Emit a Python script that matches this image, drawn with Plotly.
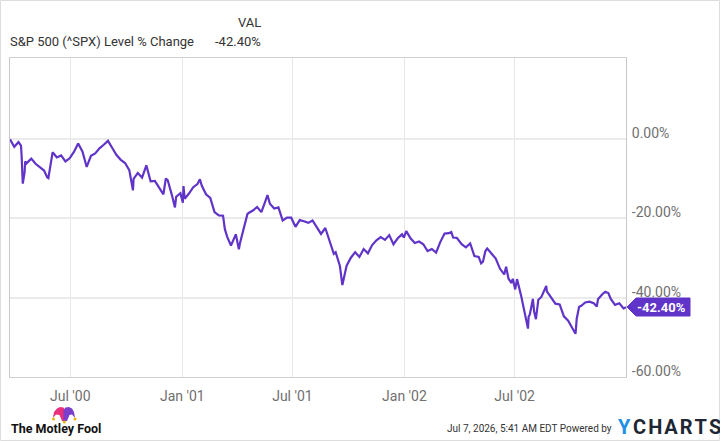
import plotly.graph_objects as go

# ---- data (S&P 500 level % change since 2000-03-24) ----
dates = [
    "2000-03-24", "2000-03-31", "2000-04-07", "2000-04-11", "2000-04-14", "2000-04-17", "2000-04-20",
    "2000-04-28", "2000-05-05", "2000-05-12", "2000-05-19", "2000-05-24", "2000-05-26", "2000-06-02",
    "2000-06-09", "2000-06-16", "2000-06-23", "2000-06-30", "2000-07-07", "2000-07-14", "2000-07-21",
    "2000-07-28", "2000-08-04", "2000-08-11", "2000-08-18", "2000-08-25", "2000-09-01", "2000-09-08",
    "2000-09-15", "2000-09-22", "2000-09-29", "2000-10-06", "2000-10-12", "2000-10-13", "2000-10-20",
    "2000-10-27", "2000-11-03", "2000-11-10", "2000-11-17", "2000-11-24", "2000-12-01", "2000-12-08",
    "2000-12-15", "2000-12-20", "2000-12-22", "2000-12-29",
    "2001-01-05", "2001-01-12", "2001-01-19", "2001-01-26", "2001-02-02", "2001-02-09", "2001-02-16",
    "2001-02-23", "2001-03-02", "2001-03-09", "2001-03-16", "2001-03-22", "2001-03-30", "2001-04-04",
    "2001-04-06", "2001-04-12", "2001-04-20", "2001-04-27", "2001-05-04", "2001-05-11", "2001-05-18",
    "2001-05-21", "2001-05-25", "2001-06-01", "2001-06-08", "2001-06-15", "2001-06-22", "2001-06-29",
    "2001-07-06", "2001-07-13", "2001-07-20", "2001-07-27", "2001-08-03", "2001-08-10", "2001-08-17",
    "2001-08-24", "2001-08-31", "2001-09-07", "2001-09-10", "2001-09-17", "2001-09-21", "2001-09-28",
    "2001-10-05", "2001-10-12", "2001-10-19", "2001-10-26", "2001-11-02", "2001-11-09", "2001-11-16",
    "2001-11-23", "2001-11-30", "2001-12-07", "2001-12-14", "2001-12-21", "2001-12-28", "2001-12-31",
    "2002-01-04", "2002-01-11", "2002-01-18", "2002-01-25", "2002-02-01", "2002-02-08", "2002-02-15",
    "2002-02-22", "2002-03-01", "2002-03-08", "2002-03-15", "2002-03-22", "2002-03-28", "2002-04-05",
    "2002-04-12", "2002-04-19", "2002-04-26", "2002-05-03", "2002-05-10", "2002-05-17", "2002-05-24",
    "2002-05-31", "2002-06-07", "2002-06-14", "2002-06-21", "2002-06-28", "2002-07-05", "2002-07-12",
    "2002-07-19", "2002-07-23", "2002-07-26", "2002-08-02", "2002-08-09", "2002-08-16", "2002-08-22",
    "2002-08-23", "2002-08-30", "2002-09-06", "2002-09-13", "2002-09-20", "2002-09-27", "2002-10-04",
    "2002-10-09", "2002-10-11", "2002-10-18", "2002-10-25", "2002-11-01", "2002-11-08", "2002-11-15",
    "2002-11-22", "2002-11-27", "2002-12-06", "2002-12-13", "2002-12-20", "2002-12-27", "2002-12-31",
]
pct_change = [
    0.0, -1.9, -0.7, -1.6, -11.2, -8.3, -6.1,
    -4.9, -6.2, -7.0, -7.9, -9.6, -9.8, -3.3,
    -4.6, -4.1, -5.6, -4.8, -3.2, -1.1, -3.1,
    -7.0, -4.2, -3.6, -2.3, -1.4, -0.4, -2.2,
    -4.0, -5.2, -6.0, -7.8, -12.9, -10.0, -8.5,
    -9.7, -6.6, -10.6, -10.5, -12.2, -13.9, -10.3,
    -14.1, -17.2, -14.5, -13.6,
    -15.0, -13.7, -12.1, -11.3, -11.7, -13.9, -14.8,
    -18.4, -19.2, -19.3, -24.7, -26.8, -24.0, -27.8,
    -26.1, -22.5, -18.6, -18.0, -17.1, -18.4, -15.4,
    -14.1, -16.3, -17.5, -17.2, -20.5, -19.8, -19.8,
    -22.1, -20.4, -20.7, -21.1, -20.5, -22.1, -23.9,
    -22.4, -25.8, -28.9, -28.5, -32.0, -36.8, -31.9,
    -29.9, -28.5, -29.7, -27.7, -28.8, -26.7, -25.5,
    -24.7, -25.4, -24.2, -26.5, -25.0, -24.0, -24.8,
    -23.2, -25.0, -26.2, -25.8, -26.5, -28.2, -27.7,
    -28.6, -25.9, -23.8, -23.7, -24.8, -24.9, -26.5,
    -27.3, -26.3, -29.5, -29.7, -30.9, -27.6, -29.0,
    -30.1, -32.7, -34.1, -35.2, -35.2, -35.3, -39.7,
    -44.5, -47.8, -44.2, -43.4, -40.5, -39.2, -37.0,
    -38.4, -40.0, -41.5, -41.7, -44.7, -45.8, -47.6,
    -49.1, -45.3, -42.1, -41.2, -41.0, -41.4, -40.4,
    -39.1, -38.5, -40.3, -41.8, -41.4, -42.7, -42.4,
]
# additional mid-week readings
extra_dates = [
    "2000-03-28", "2000-04-12", "2000-04-18", "2000-12-05",
    "2001-01-02", "2001-01-03", "2001-01-30", "2001-03-12", "2001-04-18",
    "2002-03-19", "2002-05-07", "2002-05-14", "2002-06-17", "2002-06-26", "2002-07-02",
    "2002-07-24", "2002-07-31", "2002-08-05", "2002-08-14", "2002-10-10", "2002-10-15",
    "2002-11-13", "2002-12-02",
]
extra_pct = [
    -1.3, -3.9, -5.6, -9.9,
    -16.0, -11.8, -10.1, -22.7, -18.9,
    -23.4, -31.3, -28.2, -32.2, -36.3, -37.9,
    -44.8, -40.3, -45.4, -39.8, -47.4, -42.3,
    -42.2, -38.8,
]
x_tick_vals = ["2000-07-01", "2001-01-01", "2001-07-01", "2002-01-01", "2002-07-01"]
x_tick_text = ["Jul '00", "Jan '01", "Jul '01", "Jan '02", "Jul '02"]
y_tick_vals = [0, -20, -40, -60]
y_tick_text = ["0.00%", "-20.00%", "-40.00%", "-60.00%"]
series_name = "S&P 500 (^SPX) Level % Change"
last_label = "-42.40%"

pairs = sorted(zip(dates + extra_dates, pct_change + extra_pct))
xs = [p[0] for p in pairs]
ys = [p[1] for p in pairs]

LINE = "#6034c8"
W, H = 720, 441
L, R, T, B = 10, 94, 58, 64
PW, PH = W - L - R, H - T - B


def px(x):
    return (x - L) / PW


def py(y):
    return (H - B - y) / PH


fig = go.Figure()
fig.add_trace(go.Scatter(x=xs, y=ys, mode="lines",
                         line=dict(color=LINE, width=2.2), hoverinfo="skip",
                         showlegend=False))

fig.update_layout(
    width=W, height=H,
    margin=dict(l=L, r=R, t=T, b=B),
    paper_bgcolor="white", plot_bgcolor="white",
    font=dict(family="Roboto", size=12, color="#666666"),
    xaxis=dict(
        range=["2000-03-24", "2002-12-31"],
        tickvals=x_tick_vals, ticktext=x_tick_text,
        showgrid=True, gridcolor="#e6e6e6", gridwidth=1,
        showline=True, linecolor="#d0d0d0", linewidth=1, mirror=True,
        ticks="", ticklabelstandoff=6,
        tickfont=dict(family="Roboto", size=14, color="#707070"),
        zeroline=False,
    ),
    yaxis=dict(
        range=[-60, 20.5], side="right",
        tickvals=y_tick_vals, ticktext=y_tick_text,
        showgrid=True, gridcolor="#ebebeb", gridwidth=2,
        showline=True, linecolor="#c8c8c8", linewidth=1, mirror=True,
        ticks="", ticklabelshift=-6, ticklabelstandoff=2,
        tickfont=dict(family="Roboto", size=14, color="#707070"),
        zeroline=False,
    ),
)

ann = []
ann.append(dict(x=px(263), y=py(22), xref="paper", yref="paper", text="VAL",
                xanchor="right", yanchor="middle", showarrow=False,
                font=dict(family="Roboto", size=13, color="#333333")))
ann.append(dict(x=px(8), y=py(41), xref="paper", yref="paper", text=series_name,
                xanchor="left", yanchor="middle", showarrow=False,
                font=dict(family="Roboto", size=13, color="#333333")))
ann.append(dict(x=px(263), y=py(41), xref="paper", yref="paper", text=last_label,
                xanchor="right", yanchor="middle", showarrow=False,
                font=dict(family="Roboto", size=13, color="#333333")))
# last value tag text
ann.append(dict(x=px(661), y=py(307), xref="paper", yref="paper", text="<b>" + last_label + "</b>",
                xanchor="center", yanchor="middle", showarrow=False,
                font=dict(family="Roboto", size=13, color="white")))
# footer
ann.append(dict(x=px(614), y=py(428), xref="paper", yref="paper",
                text="Jul 7, 2026, 5:41 AM EDT Powered by",
                xanchor="right", yanchor="middle", showarrow=False,
                font=dict(family="Roboto", size=10, color="#333333")))
ann.append(dict(x=px(616), y=py(427), xref="paper", yref="paper",
                text="<b>Y</b>", xanchor="left", yanchor="middle", showarrow=False,
                font=dict(family="Roboto", size=20, color="#1e8fe6")))
ann.append(dict(x=px(631), y=py(427), xref="paper", yref="paper",
                text="<b>C\u200aH\u200aA\u200aR\u200aT\u200aS</b>", xanchor="left", yanchor="middle",
                showarrow=False, font=dict(family="Roboto", size=20, color="#1d2733")))
ann.append(dict(x=px(9), y=py(428), xref="paper", yref="paper",
                text="<b>The Motley Fool</b>", xanchor="left", yanchor="middle", showarrow=False,
                font=dict(family="Roboto", size=12.5, color="#111111")))
fig.update_layout(annotations=ann)


def path(points):
    s = "M " + " L ".join(f"{px(a):.5f},{py(b):.5f}" for a, b in points) + " Z"
    return s


shapes = []
# outer border
shapes.append(dict(type="rect", xref="paper", yref="paper",
                   x0=px(0.5), x1=px(719.5), y0=py(440.5), y1=py(0.5),
                   line=dict(color="#dddddd", width=1), fillcolor="rgba(0,0,0,0)"))
# last value tag
shapes.append(dict(type="path", xref="paper", yref="paper",
                   path=path([(627, 307), (636, 298), (690, 298), (690, 316), (636, 316)]),
                   fillcolor=LINE, line=dict(color=LINE, width=1)))
# jester hat (Motley Fool)
shapes.append(dict(type="path", xref="paper", yref="paper",
                   path=path([(53, 418), (54, 412), (57, 408.5), (60, 407), (63.5, 407.5), (65, 410),
                              (65, 421), (62, 421), (59.5, 415), (56, 414.5)]),
                   fillcolor="#e8307c", line=dict(width=0)))
shapes.append(dict(type="path", xref="paper", yref="paper",
                   path=path([(63.5, 421), (63.5, 410), (65.5, 407.5), (69, 407), (72, 408.5), (74, 412),
                              (75, 418), (72, 414.5), (69.5, 415), (67, 421)]),
                   fillcolor="#7b3fcc", line=dict(width=0)))
for cx, cy in [(53.5, 419), (64.3, 422), (75, 419)]:
    shapes.append(dict(type="circle", xref="paper", yref="paper",
                       x0=px(cx - 1.5), x1=px(cx + 1.5), y0=py(cy + 1.5), y1=py(cy - 1.5),
                       fillcolor="#f5b400", line=dict(width=0)))
fig.update_layout(shapes=shapes)

fig.write_html("out.html")
